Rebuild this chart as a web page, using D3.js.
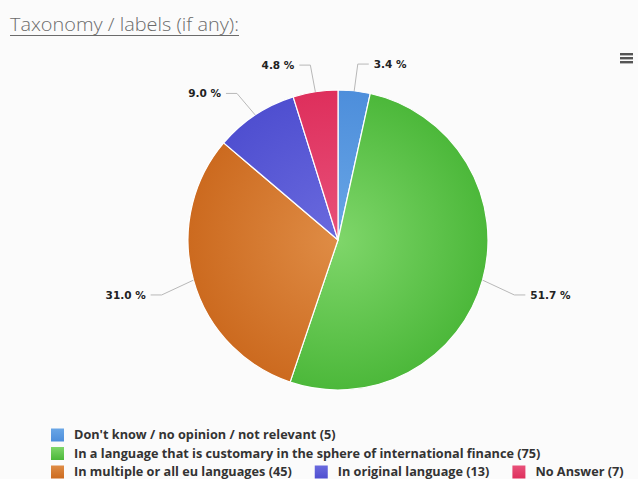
<!DOCTYPE html>
<html>
<head>
<meta charset="utf-8">
<script src="https://cdn.jsdelivr.net/npm/d3@7"></script>
<style>
  html, body { margin: 0; padding: 0; background: #fbfbfb; }
  svg { display: block; }
</style>
</head>
<body>
<svg id="chart" width="638" height="479"></svg>
<script>
// Answers to the taxonomy / labels question
const categories = [
  "Don't know / no opinion / not relevant",
  "In a language that is customary in the sphere of international finance",
  "In multiple or all eu languages",
  "In original language",
  "No Answer"
];
const counts = [5, 75, 45, 13, 7];
const edgeColors = ["#4d8edb", "#4cb83a", "#cc6a1f", "#4f4fd0", "#de2f5c"];
const centerColors = ["#69a6e6", "#7fd66a", "#df8c45", "#6a6ade", "#e8517a"];

const W = 638, H = 479;
const cx = 338, cy = 240, R = 150;

const svg = d3.select("#chart");
const defs = svg.append("defs");

// Title
svg.append("text")
  .attr("x", 10).attr("y", 31)
  .attr("font-family", "'Open Sans', Lato, sans-serif")
  .attr("font-size", 18)
  .attr("font-weight", 300)
  .attr("fill", "#6b6b6b")
  .attr("textLength", 229)
  .attr("lengthAdjust", "spacingAndGlyphs")
  .text("Taxonomy / labels (if any):");
svg.append("line")
  .attr("x1", 10).attr("x2", 239)
  .attr("y1", 35.5).attr("y2", 35.5)
  .attr("stroke", "#6b6b6b").attr("stroke-width", 1);

// Export menu icon
const menu = svg.append("g").attr("transform", "translate(620,53)");
[0, 4, 8].forEach(dy => menu.append("rect")
  .attr("x", 0).attr("y", dy).attr("width", 13).attr("height", 2.4)
  .attr("fill", "#555"));

const total = d3.sum(counts);
const pie = d3.pie().sort(null).value(d => d)
  .startAngle(0).endAngle(2 * Math.PI);
const arcs = pie(counts);
const arc = d3.arc().innerRadius(0).outerRadius(R);

categories.forEach((c, i) => {
  const g = defs.append("radialGradient")
    .attr("id", "grad" + i)
    .attr("gradientUnits", "userSpaceOnUse")
    .attr("cx", 0).attr("cy", 0).attr("r", R);
  g.append("stop").attr("offset", "0%").attr("stop-color", centerColors[i]);
  g.append("stop").attr("offset", "100%").attr("stop-color", edgeColors[i]);
});

const pieG = svg.append("g").attr("transform", `translate(${cx},${cy})`);
pieG.selectAll("path.slice")
  .data(arcs)
  .join("path")
  .attr("class", "slice")
  .attr("d", arc)
  .attr("fill", (d, i) => `url(#grad${i})`)
  .attr("stroke", "#ffffff")
  .attr("stroke-width", 1.2)
  .attr("stroke-linejoin", "round");

// Data labels with connectors
const fmt = v => (v / total * 100).toFixed(1) + " %";
const labelDist = 33, labelShift = 6;
arcs.forEach((d, i) => {
  const a = (d.startAngle + d.endAngle) / 2;
  const sx = Math.sin(a), sy = -Math.cos(a);
  const side = sx >= 0 ? 1 : -1;
  const p0 = [sx * R, sy * R];
  const p1 = [sx * (R + labelDist), sy * (R + labelDist) + labelShift];
  const p2 = [p1[0] + side * 11, p1[1]];
  pieG.append("path")
    .attr("d", d3.line()([p0, p1, p2]))
    .attr("fill", "none")
    .attr("stroke", "#b8b8b8")
    .attr("stroke-width", 1);
  pieG.append("text")
    .attr("x", p1[0] + side * 16)
    .attr("y", p1[1] + 4)
    .attr("text-anchor", side > 0 ? "start" : "end")
    .attr("font-family", "'DejaVu Sans', Verdana, sans-serif")
    .attr("font-size", 10.5)
    .attr("font-weight", "bold")
    .attr("fill", "#222")
    .text(fmt(d.value));
});

// Legend
const legendRows = [[0], [1], [2, 3, 4]];
const legendFont = "'Open Sans', 'DejaVu Sans', sans-serif";
const legend = svg.append("g");
legendRows.forEach((row, r) => {
  let x = 51;
  const y = 435 + r * 18.5;
  row.forEach(i => {
    const lg = defs.append("linearGradient")
      .attr("id", "lg" + i).attr("x1", 0).attr("y1", 0).attr("x2", 0).attr("y2", 1);
    lg.append("stop").attr("offset", "0%").attr("stop-color", centerColors[i]);
    lg.append("stop").attr("offset", "100%").attr("stop-color", edgeColors[i]);
    legend.append("rect")
      .attr("x", x).attr("y", y - 6.5)
      .attr("width", 13).attr("height", 13)
      .attr("fill", `url(#lg${i})`);
    const t = legend.append("text")
      .attr("x", x + 23).attr("y", y + 4.3)
      .attr("font-family", legendFont)
      .attr("font-size", 12.7)
      .attr("font-weight", "bold")
      .attr("fill", "#333")
      .text(`${categories[i]} (${counts[i]})`);
    x += 23 + t.node().getComputedTextLength() + 23;
  });
});
</script>
</body>
</html>
